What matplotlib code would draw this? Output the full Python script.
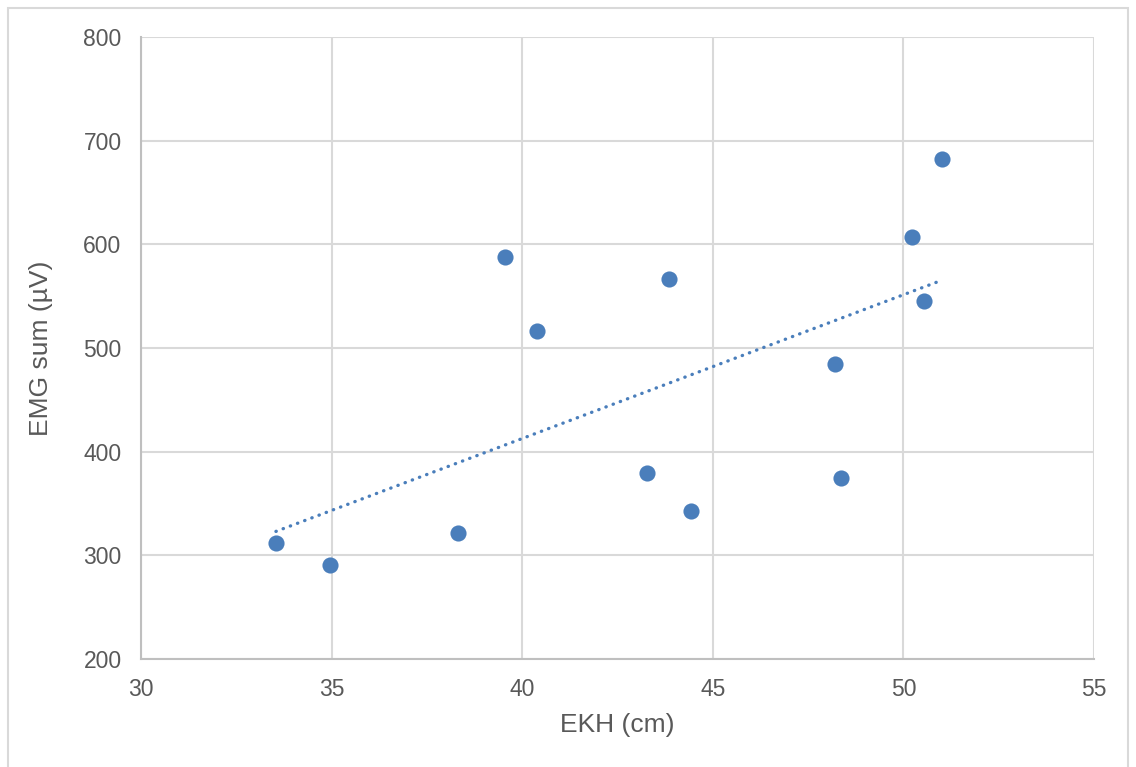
import matplotlib.pyplot as plt
import numpy as np
from matplotlib.patches import Rectangle

# EKH (cm) vs EMG sum (uV)
ekh = [33.54, 34.96, 38.32, 39.55, 40.39, 43.27, 43.85, 44.43, 48.21, 48.36, 50.23, 50.54, 51.01]
emg = [312, 291, 322, 588, 516, 379, 567, 343, 485, 375, 607, 545, 682]

xticks = [30, 35, 40, 45, 50, 55]
yticks = [200, 300, 400, 500, 600, 700, 800]

plt.rcParams['font.family'] = ['Liberation Sans', 'DejaVu Sans']

fig = plt.figure(figsize=(11.36, 7.67), dpi=100)
ax = fig.add_axes([141 / 1136, 1 - 659 / 767, (1094 - 141) / 1136, (659 - 37) / 767])

# chart border like excel
fig.patches.append(Rectangle((8 / 1136, -0.01), (1128 - 8) / 1136, (759 + 8) / 767,
                             transform=fig.transFigure, fill=False,
                             edgecolor="#d9d9d9", linewidth=1.5))

col = "#4a7ebb"
ax.scatter(ekh, emg, s=135, color=col, zorder=3, linewidths=0)

# linear trendline
k, b = np.polyfit(ekh, emg, 1)
xs = np.array([min(ekh), max(ekh)])
ax.plot(xs, k * xs + b, color=col, linewidth=2.4, linestyle=(0, (0.1, 2.2)),
        dash_capstyle="round", zorder=2)

ax.set_xlim(30, 55)
ax.set_ylim(200, 800)
ax.set_xticks(xticks)
ax.set_yticks(yticks)
ax.grid(True, color="#d9d9d9", linewidth=1.5)
ax.set_axisbelow(True)
for side in ["top", "right"]:
    ax.spines[side].set_visible(False)
for side in ["left", "bottom"]:
    ax.spines[side].set_color("#bfbfbf")
    ax.spines[side].set_linewidth(1.5)
ax.tick_params(length=0, labelsize=16.5, labelcolor="#595959")
ax.tick_params(axis="x", pad=14)
ax.tick_params(axis="y", pad=14)

ax.set_xlabel("EKH (cm)", fontsize=19, color="#595959", labelpad=8)
ax.set_ylabel("EMG sum (µV)", fontsize=19, color="#595959", labelpad=22)

plt.savefig("out.png", dpi=100)
